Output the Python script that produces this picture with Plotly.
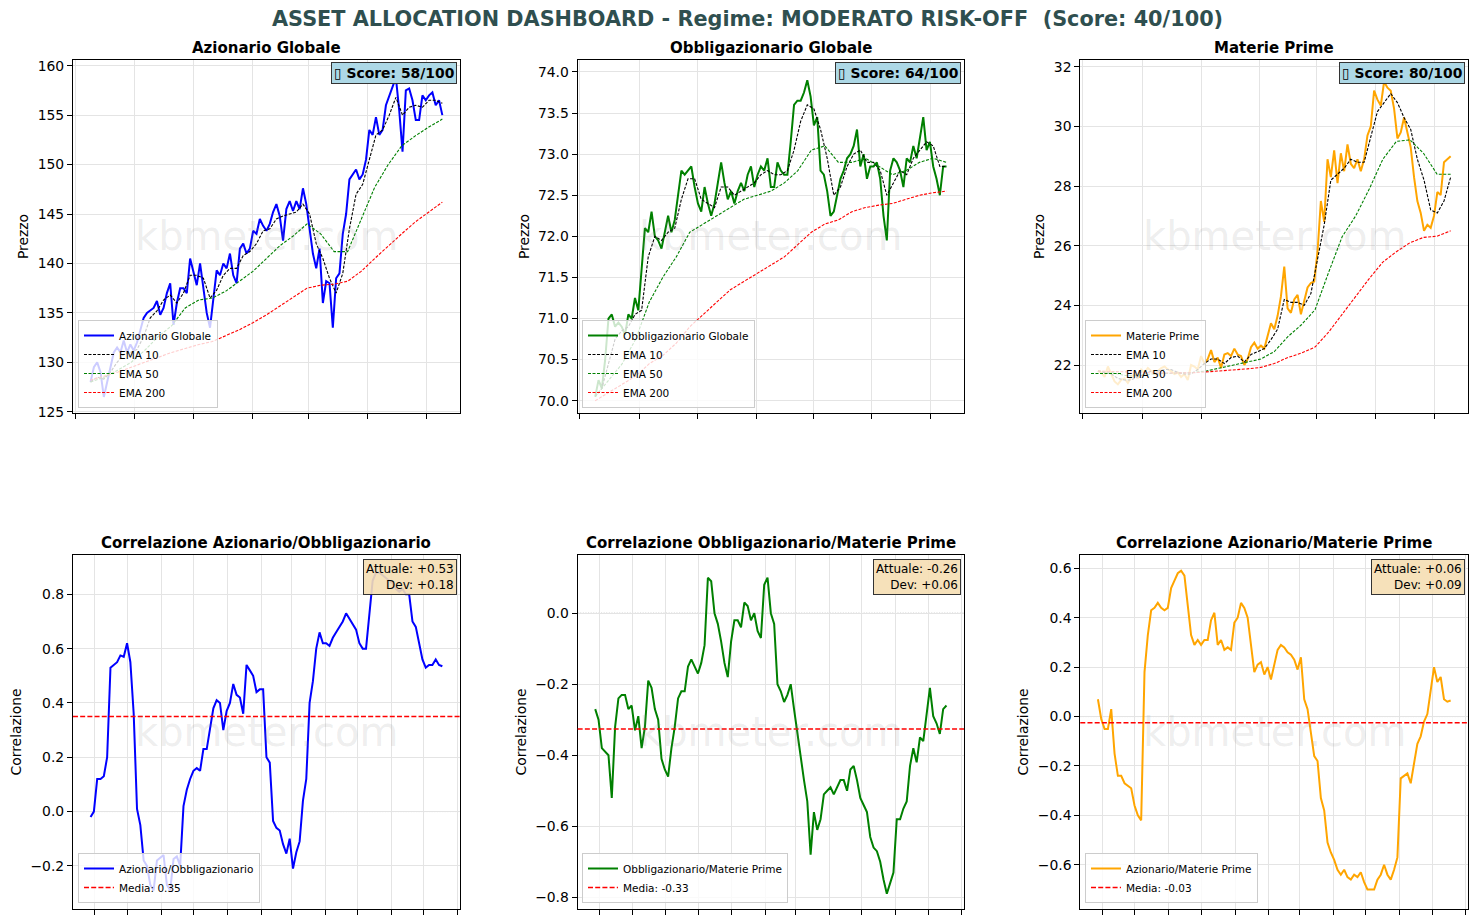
import pandas as pd
import plotly.graph_objects as go

# ------------------------------------------------------------------ DATA
PRICE_START = "2024-07-17"
PRICE_END = "2025-07-18"
CORR_START = "2024-08-28"
CORR_END = "2025-07-18"

regime_name = "MODERATO RISK-OFF"
regime_score = 40

asset_names = ["Azionario Globale", "Obbligazionario Globale", "Materie Prime"]
asset_scores = [58, 64, 80]

azionario_price = [
    128.0, 129.5, 130.0, 129.0, 126.5, 128.0, 129.5, 131.0, 131.5, 131.0,
    132.2, 131.0, 131.8, 131.2, 132.0, 133.2, 134.5, 135.0, 135.3, 135.5,
    136.2, 134.8, 135.5, 137.0, 138.0, 133.8, 136.0, 137.5, 137.5, 137.0,
    140.5, 139.2, 137.8, 140.0, 137.5, 135.0, 133.5, 136.5, 139.3, 138.8,
    140.0, 139.5, 141.0, 138.8, 138.0, 141.5, 142.0, 141.0, 141.5, 143.3,
    143.0, 144.5, 143.8, 143.3, 144.0, 145.2, 146.0, 144.8, 142.3, 145.5,
    146.3, 145.3, 146.3, 145.5, 147.6, 146.0, 143.5, 141.0, 139.5, 141.5,
    136.0, 138.2, 138.0, 133.5, 138.5, 139.0, 143.0, 145.0, 148.5, 149.0,
    149.5, 148.5, 149.0, 150.5, 153.5, 153.0, 154.8, 153.0, 153.5, 156.0,
    157.0, 157.8, 158.8, 155.5, 151.3, 157.5, 157.7, 156.5, 154.5, 154.5,
    157.0, 156.5, 157.0, 157.3, 156.0, 156.5, 155.0]
azionario_ema10 = [
    128.0, 128.5, 128.3, 129.0, 130.0, 130.8, 131.0, 131.3, 132.6, 134.5,
    135.2, 136.3, 136.8, 136.0, 137.0, 138.8, 138.8, 138.5, 136.5, 137.3,
    138.8, 139.5, 139.5, 140.8, 141.2, 142.0, 143.3, 143.5, 144.5, 144.8,
    145.0, 145.2, 146.0, 145.0, 142.0, 140.5, 138.5, 137.0, 139.0, 143.5,
    147.0, 148.0, 150.5, 153.0, 153.5, 155.0, 156.8, 155.0, 155.8, 156.0,
    155.8, 156.5, 156.5, 156.2]
azionario_ema50 = [
    128.0, 128.5, 129.2, 130.0, 131.2, 132.6, 133.7, 135.5, 136.3, 136.5,
    137.2, 138.2, 139.2, 140.5, 141.8, 142.8, 144.0, 143.0, 141.2, 141.2,
    144.5, 147.7, 150.0, 151.9, 152.9, 153.8, 154.6]
azionario_ema200 = [
    128.2, 128.6, 129.0, 129.5, 130.0, 130.5, 131.0, 131.4, 131.8, 132.1,
    132.7, 133.3, 134.0, 134.8, 135.7, 136.6, 137.5, 137.8, 137.9, 138.2,
    139.2, 140.5, 141.8, 143.0, 144.2, 145.2, 146.2]

obbligazionario_price = [
    70.05, 70.25, 70.15, 70.5, 71.0, 71.05, 70.9, 70.95, 70.9, 70.8,
    71.05, 71.0, 71.25, 71.1, 71.6, 72.1, 72.05, 72.3, 72.0, 71.95,
    71.85, 72.05, 72.25, 72.05, 72.2, 72.5, 72.8, 72.75, 72.8, 72.85,
    72.6, 72.4, 72.3, 72.6, 72.4, 72.25, 72.4, 72.65, 72.9, 72.65,
    72.45, 72.55, 72.4, 72.55, 72.65, 72.55, 72.75, 72.85, 72.6, 72.75,
    72.85, 72.8, 72.95, 72.6, 72.6, 72.9, 72.8, 72.75, 72.75, 73.15,
    73.6, 73.65, 73.65, 73.75, 73.9, 73.7, 73.35, 73.45, 72.8, 72.75,
    72.55, 72.25, 72.3, 72.5, 72.7, 72.8, 72.95, 73.0, 73.1, 73.3,
    72.85, 73.0, 72.7, 72.85, 72.85, 72.9, 72.7, 72.25, 71.95, 72.8,
    72.95, 72.9, 72.8, 72.6, 72.95, 72.9, 73.1, 72.95, 73.2, 73.45,
    73.05, 73.15, 72.85, 72.7, 72.5, 72.85, 72.85]
obbligazionario_ema10 = [
    70.05, 70.15, 70.45, 70.75, 70.85, 70.9, 71.05, 71.1, 71.75, 72.0,
    71.95, 72.05, 72.1, 72.45, 72.7, 72.7, 72.45, 72.4, 72.35, 72.6,
    72.6, 72.5, 72.55, 72.6, 72.65, 72.75, 72.8, 72.75, 72.75, 72.8,
    73.05, 73.4, 73.6, 73.55, 73.3, 72.95, 72.5, 72.6, 72.85, 73.0,
    73.05, 72.9, 72.9, 72.8, 72.5, 72.65, 72.8, 72.75, 72.95, 73.05,
    73.15, 73.1, 72.85, 72.85]
obbligazionario_ema50 = [
    70.05, 70.25, 70.45, 70.75, 71.2, 71.5, 71.75, 72.05, 72.15, 72.25,
    72.35, 72.45, 72.5, 72.55, 72.65, 72.8, 73.05, 73.1, 72.9, 72.9,
    72.95, 72.85, 72.75, 72.8, 72.9, 72.95, 72.9]
obbligazionario_ema200 = [
    70.0, 70.1, 70.2, 70.3, 70.45, 70.55, 70.7, 70.9, 71.05, 71.2,
    71.35, 71.45, 71.55, 71.65, 71.75, 71.9, 72.05, 72.15, 72.2, 72.3,
    72.35, 72.38, 72.4, 72.45, 72.5, 72.53, 72.55]

materie_price = [
    21.8, 21.75, 21.6, 21.95, 21.7, 21.45, 21.35, 21.5, 21.55, 21.4,
    21.6, 21.7, 21.55, 21.85, 21.75, 21.9, 21.8, 21.7, 21.8, 21.9,
    21.95, 21.85, 21.8, 21.7, 21.75, 21.6, 21.7, 21.5, 22.0, 21.95,
    21.85, 22.3, 22.05, 22.2, 22.5, 22.1, 22.25, 21.9, 22.35, 22.4,
    22.3, 22.55, 22.35, 22.3, 22.0, 22.2, 22.6, 22.75, 22.55, 22.65,
    22.55, 22.95, 23.4, 23.2, 23.65, 24.3, 25.3, 23.9, 23.75, 24.2,
    24.35, 23.7, 24.15, 24.6, 24.75, 24.8, 25.8, 27.5, 26.8, 28.9,
    28.3, 29.2, 28.1, 29.1, 28.5, 29.4, 28.75, 28.6, 28.9, 28.5,
    28.9, 29.7, 30.0, 31.2, 30.9, 30.7, 31.5, 31.3, 31.2, 30.6,
    29.6, 29.8, 30.3, 29.8, 29.3, 28.3, 27.5, 27.1, 26.5, 26.7,
    26.6, 27.0, 27.8, 27.7, 28.8, 28.9, 29.0]
materie_ema10 = [
    21.8, 21.75, 21.7, 21.55, 21.5, 21.5, 21.6, 21.7, 21.8, 21.8,
    21.85, 21.85, 21.75, 21.7, 21.7, 21.85, 22.05, 22.2, 22.2, 22.05,
    22.25, 22.3, 22.1, 22.35, 22.45, 22.55, 22.85, 23.2, 24.2, 24.1,
    24.1, 24.0, 24.4, 25.5, 26.7, 28.2, 28.4, 28.6, 28.9, 28.8,
    28.8, 29.7, 30.5, 30.8, 31.1, 30.8, 30.3, 29.9, 28.9, 28.2,
    27.2, 27.1, 27.5, 28.3]
materie_ema50 = [
    21.8, 21.75, 21.65, 21.65, 21.7, 21.72, 21.72, 21.75, 21.8, 21.9,
    22.0, 22.1, 22.2, 22.45, 22.95, 23.35, 23.85, 25.1, 26.3, 27.0,
    27.9, 28.9, 29.5, 29.55, 29.1, 28.4, 28.4]
materie_ema200 = [
    21.8, 21.78, 21.76, 21.75, 21.74, 21.73, 21.73, 21.74, 21.77, 21.8,
    21.83, 21.87, 21.92, 22.05, 22.25, 22.4, 22.6, 23.1, 23.7, 24.3,
    24.9, 25.45, 25.8, 26.1, 26.28, 26.32, 26.5]

corr_names = ["Azionario/Obbligazionario", "Obbligazionario/Materie Prime",
              "Azionario/Materie Prime"]
corr_az_ob = [
    -0.02, 0.0, 0.12, 0.12, 0.13, 0.2, 0.53, 0.54, 0.55, 0.575,
    0.57, 0.62, 0.55, 0.36, 0.01, -0.05, -0.18, -0.2, -0.27, -0.29,
    -0.18, -0.17, -0.16, -0.27, -0.29, -0.175, -0.165, -0.2, 0.02, 0.08,
    0.12, 0.15, 0.16, 0.15, 0.23, 0.23, 0.3, 0.38, 0.41, 0.4,
    0.3, 0.37, 0.4, 0.47, 0.43, 0.42, 0.36, 0.54, 0.52, 0.5,
    0.44, 0.45, 0.45, 0.2, 0.18, -0.035, -0.06, -0.07, -0.12, -0.155,
    -0.1, -0.21, -0.15, -0.11, 0.04, 0.12, 0.4, 0.48, 0.6, 0.66,
    0.62, 0.62, 0.61, 0.64, 0.66, 0.68, 0.7, 0.73, 0.71, 0.69,
    0.67, 0.62, 0.6, 0.6, 0.74, 0.85, 0.88, 0.88, 0.87, 0.86,
    0.85, 0.84, 0.82, 0.81, 0.82, 0.8, 0.8, 0.7, 0.68, 0.62,
    0.56, 0.53, 0.54, 0.54, 0.56, 0.54, 0.535]
corr_ob_mp = [
    -0.27, -0.3, -0.38, -0.39, -0.4, -0.52, -0.32, -0.24, -0.23, -0.23,
    -0.27, -0.26, -0.33, -0.29, -0.38, -0.32, -0.19, -0.21, -0.27, -0.3,
    -0.41, -0.44, -0.46, -0.38, -0.32, -0.24, -0.22, -0.22, -0.15, -0.13,
    -0.15, -0.17, -0.14, -0.09, 0.1, 0.09, 0.0, -0.03, -0.08, -0.14,
    -0.18, -0.08, -0.02, -0.02, -0.04, 0.03, 0.02, -0.02, 0.0, -0.05,
    -0.07, 0.08, 0.1, 0.0, -0.03, -0.2, -0.22, -0.25, -0.23, -0.2,
    -0.27, -0.34, -0.41, -0.47, -0.53, -0.68, -0.56, -0.61, -0.58, -0.51,
    -0.5, -0.49, -0.51, -0.49, -0.47, -0.47, -0.5, -0.44, -0.43, -0.47,
    -0.52, -0.54, -0.56, -0.63, -0.66, -0.67, -0.7, -0.75, -0.79, -0.76,
    -0.73, -0.58, -0.58, -0.55, -0.53, -0.43, -0.38, -0.42, -0.35, -0.36,
    -0.29, -0.21, -0.29, -0.31, -0.34, -0.27, -0.26]
corr_az_mp = [
    0.07, -0.01, -0.05, -0.05, 0.03, -0.15, -0.24, -0.24, -0.27, -0.28,
    -0.29, -0.36, -0.4, -0.42, 0.18, 0.33, 0.43, 0.44, 0.46, 0.44,
    0.43, 0.44, 0.52, 0.55, 0.58, 0.59, 0.57, 0.45, 0.33, 0.29,
    0.31, 0.29, 0.31, 0.31, 0.39, 0.42, 0.29, 0.31, 0.27, 0.28,
    0.27, 0.38, 0.4, 0.46, 0.44, 0.4, 0.28, 0.18, 0.21, 0.22,
    0.17, 0.2, 0.15, 0.21, 0.27, 0.29, 0.28, 0.26, 0.25, 0.23,
    0.19, 0.24, 0.07, 0.03, -0.06, -0.16, -0.18, -0.33, -0.38, -0.51,
    -0.55, -0.58, -0.62, -0.64, -0.62, -0.65, -0.66, -0.64, -0.65, -0.63,
    -0.67, -0.7, -0.7, -0.7, -0.66, -0.64, -0.6, -0.64, -0.66, -0.62,
    -0.57, -0.25, -0.24, -0.23, -0.27, -0.18, -0.11, -0.08, -0.02, 0.01,
    0.11, 0.2, 0.14, 0.16, 0.07, 0.06, 0.065]
corr_means = [0.35, -0.326, -0.025]
corr_current = [0.53, -0.26, 0.06]
corr_dev = [0.18, 0.06, 0.09]

# ------------------------------------------------------------------ STYLE / LAYOUT
FONT = "DejaVu Sans"
W, H = 1477, 924
X_DOM = [[0.0494, 0.3114], [0.3911, 0.6527], [0.7314, 0.9941]]
Y_DOM_TOP = [0.5530, 0.9351]
Y_DOM_BOT = [0.0162, 0.3994]
Y_RANGES = [[124.87, 160.58], [69.85, 74.146], [20.39, 32.23],
            [-0.359, 0.945], [-0.833, 0.164], [-0.779, 0.654]]
Y_DTICK = [5, 0.5, 2, 0.2, 0.2, 0.2]
Y_FMT = ["d", ".1f", "d", ".1f", ".1f", ".1f"]
LEG_POS = [(78, 408), (582, 408), (1085, 408), (78, 903), (582, 903), (1085, 903)]
asset_colors = ["#0000ff", "#008000", "#ffa500"]
GRID = "#e4e4e4"


def padded_range(start, end, frac=0.05):
    s, e = pd.Timestamp(start), pd.Timestamp(end)
    pad = (e - s) * frac
    return [str(s - pad), str(e + pad)]


def axn(k):
    return ("x" if k == 1 else f"x{k}"), ("y" if k == 1 else f"y{k}"), \
           ("legend" if k == 1 else f"legend{k}")


price_series = [azionario_price, obbligazionario_price, materie_price]
ema10_series = [azionario_ema10, obbligazionario_ema10, materie_ema10]
ema50_series = [azionario_ema50, obbligazionario_ema50, materie_ema50]
ema200_series = [azionario_ema200, obbligazionario_ema200, materie_ema200]
corr_series = [corr_az_ob, corr_ob_mp, corr_az_mp]

fig = go.Figure()
annotations = []
shapes = []
layout = {}

for i in range(3):
    k = i + 1
    xs, ys, leg = axn(k)
    d = lambda arr: pd.date_range(PRICE_START, PRICE_END, periods=len(arr))
    fig.add_trace(go.Scatter(x=d(price_series[i]), y=price_series[i], mode="lines",
                             name=asset_names[i], line=dict(color=asset_colors[i], width=2),
                             xaxis=xs, yaxis=ys, legend=leg))
    for arr, nm, col in [(ema10_series[i], "EMA 10", "black"),
                         (ema50_series[i], "EMA 50", "green"),
                         (ema200_series[i], "EMA 200", "red")]:
        fig.add_trace(go.Scatter(x=d(arr), y=arr, mode="lines", name=nm,
                                 line=dict(color=col, width=1.1, dash="3px,1.5px"),
                                 xaxis=xs, yaxis=ys, legend=leg))
    annotations.append(dict(text=f"<b>{asset_names[i]}</b>", xref=f"{xs} domain", yref=f"{ys} domain",
                            x=0.5, y=1, xanchor="center", yanchor="bottom", yshift=1,
                            showarrow=False, font=dict(size=15, color="black", family=FONT)))
    annotations.append(dict(text=f"<b>\u25af Score: {asset_scores[i]}/100</b>",
                            xref=f"{xs} domain", yref=f"{ys} domain", x=0.992, y=0.994,
                            xanchor="right", yanchor="top", showarrow=False,
                            bgcolor="#add8e6", bordercolor="#333333", borderwidth=1, borderpad=2,
                            font=dict(size=13.9, color="black", family=FONT)))

for i in range(3):
    k = i + 4
    xs, ys, leg = axn(k)
    dates = pd.date_range(CORR_START, CORR_END, periods=len(corr_series[i]))
    fig.add_trace(go.Scatter(x=dates, y=corr_series[i], mode="lines", name=corr_names[i],
                             line=dict(color=asset_colors[i], width=2),
                             xaxis=xs, yaxis=ys, legend=leg))
    fig.add_trace(go.Scatter(x=[None], y=[None], mode="lines",
                             name=f"Media: {corr_means[i]:.2f}",
                             line=dict(color="red", width=1.4, dash="5px,2.2px"),
                             xaxis=xs, yaxis=ys, legend=leg))
    shapes.append(dict(type="line", xref=f"{xs} domain", yref=ys, x0=0, x1=1, y0=0, y1=0,
                       line=dict(color="rgba(100,100,100,0.6)", width=0.9, dash="1px,1.6px"),
                       layer="below"))
    shapes.append(dict(type="line", xref=f"{xs} domain", yref=ys, x0=0, x1=1,
                       y0=corr_means[i], y1=corr_means[i],
                       line=dict(color="red", width=1.4, dash="5px,2.2px"), layer="above"))
    title = corr_names[i]
    annotations.append(dict(text=f"<b>Correlazione {title}</b>", xref=f"{xs} domain",
                            yref=f"{ys} domain", x=0.5, y=1, xanchor="center", yanchor="bottom",
                            yshift=1, showarrow=False,
                            font=dict(size=15, color="black", family=FONT)))
    annotations.append(dict(text=f"Attuale: {corr_current[i]:+.2f}<br>Dev: {corr_dev[i]:+.2f}",
                            xref=f"{xs} domain", yref=f"{ys} domain", x=0.992, y=0.989,
                            xanchor="right", yanchor="top", align="right", showarrow=False,
                            bgcolor="rgba(245,222,179,0.9)", bordercolor="#333333",
                            borderwidth=1, borderpad=2,
                            font=dict(size=12, color="black", family=FONT)))

for k in range(1, 7):
    xs, ys, leg = axn(k)
    top = k <= 3
    col = (k - 1) % 3
    xkey = "xaxis" if k == 1 else f"xaxis{k}"
    ykey = "yaxis" if k == 1 else f"yaxis{k}"
    layout[xkey] = dict(
        domain=X_DOM[col], anchor=ys, type="date",
        range=padded_range(PRICE_START, PRICE_END) if top else padded_range(CORR_START, CORR_END),
        tick0="2024-07-01" if top else "2024-09-01", dtick="M2" if top else "M1",
        showticklabels=False, ticks="outside", ticklen=5, tickwidth=1, tickcolor="black",
        showgrid=True, gridcolor=GRID, gridwidth=1, zeroline=False,
        showline=True, linecolor="black", linewidth=1, mirror=True)
    layout[ykey] = dict(
        domain=Y_DOM_TOP if top else Y_DOM_BOT, anchor=xs, range=Y_RANGES[k - 1],
        tick0=0, dtick=Y_DTICK[k - 1], tickformat=Y_FMT[k - 1],
        ticks="outside", ticklen=5, tickwidth=1, tickcolor="black",
        tickfont=dict(size=13.9, color="black", family=FONT),
        title=dict(text="Prezzo" if top else "Correlazione", standoff=5,
                   font=dict(size=13.9, color="black", family=FONT)),
        showgrid=True, gridcolor=GRID, gridwidth=1, zeroline=False,
        showline=True, linecolor="black", linewidth=1, mirror=True, automargin=False)
    lx, ly = LEG_POS[k - 1]
    layout[leg] = dict(x=lx / W, y=1 - ly / H, xanchor="left", yanchor="bottom",
                       xref="paper", yref="paper",
                       bgcolor="rgba(255,255,255,0.8)", bordercolor="#cccccc", borderwidth=1,
                       font=dict(size=10.5, color="black", family=FONT),
                       tracegroupgap=0, itemwidth=30)
    annotations.append(dict(text="kbmeter.com", xref=f"{xs} domain", yref=f"{ys} domain",
                            x=0.5, y=0.5, xanchor="center", yanchor="middle", showarrow=False,
                            font=dict(size=40, color="rgba(128,128,128,0.15)", family=FONT)))

annotations.append(dict(
    text=f"<b>ASSET ALLOCATION DASHBOARD - Regime: {regime_name}  (Score: {regime_score}/100)</b>",
    xref="paper", yref="paper", x=0.5064, y=1 - 19 / H, xanchor="center", yanchor="middle",
    showarrow=False, font=dict(size=20.8, color="#2f4f4f", family=FONT)))

fig.update_layout(
    width=W, height=H, margin=dict(l=0, r=0, t=0, b=0),
    paper_bgcolor="white", plot_bgcolor="white",
    font=dict(family=FONT, color="black"),
    showlegend=True, annotations=annotations, shapes=shapes, **layout)

fig.write_html("out.html")
